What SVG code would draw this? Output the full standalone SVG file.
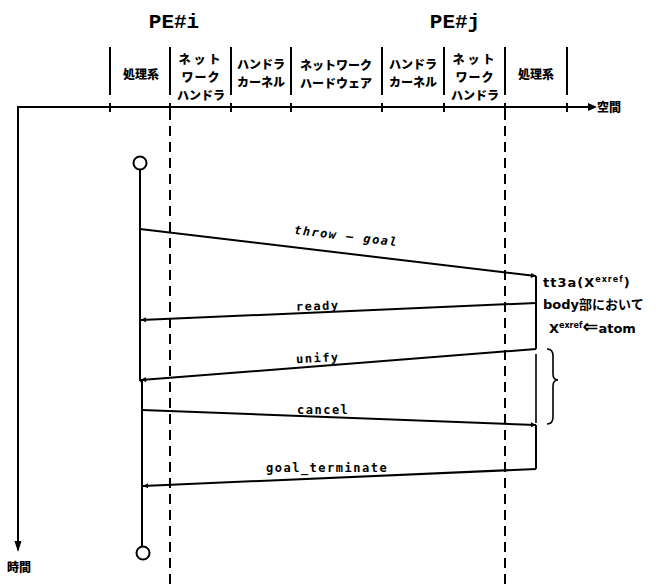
<svg xmlns="http://www.w3.org/2000/svg" width="661" height="588" viewBox="0 0 661 588">
<style>
.ln{stroke:#000;stroke-width:2;fill:none}
.th{stroke:#000;stroke-width:1.6;fill:none}
.ds{stroke:#000;stroke-width:2;stroke-dasharray:10,6;fill:none}
.jp{font-family:"Noto Sans CJK JP","Noto Sans CJK SC",sans-serif;font-weight:900;font-size:12px;fill:#000}
.hd{font-family:"Liberation Mono","DejaVu Sans Mono",monospace;font-weight:bold;font-size:21px;fill:#000}
.lb{font-family:"DejaVu Sans Mono","Liberation Mono",monospace;font-weight:bold;font-size:12px;fill:#000;letter-spacing:1.5px}
.rt{font-family:"DejaVu Sans","Noto Sans CJK JP",sans-serif;font-weight:bold;font-size:13px;fill:#000}
</style>
<defs>
<marker id="ah" viewBox="0 0 10 10" refX="10" refY="5" markerWidth="7" markerHeight="5" orient="auto" markerUnits="userSpaceOnUse">
<path d="M0,0L10,5L0,10z" fill="#000"/>
</marker>
</defs>
<rect width="661" height="588" fill="#fff"/>

<g id="header">
<text class="hd" x="174" y="28" text-anchor="middle">PE#i</text>
<text class="hd" x="455" y="28" text-anchor="middle">PE#j</text>
</g>

<g id="separators">
<line class="ln" x1="110" y1="47" x2="110" y2="95"/>
<line class="ln" x1="170" y1="47" x2="170" y2="95"/>
<line class="ln" x1="231" y1="47" x2="231" y2="95"/>
<line class="ln" x1="291" y1="47" x2="291" y2="95"/>
<line class="ln" x1="382" y1="47" x2="382" y2="95"/>
<line class="ln" x1="444" y1="47" x2="444" y2="95"/>
<line class="ln" x1="505" y1="47" x2="505" y2="95"/>
<line class="ln" x1="567" y1="47" x2="567" y2="95"/>
</g>

<g id="column-labels">
<text class="jp" x="141" y="79" text-anchor="middle">処理系</text>
<text class="jp" x="201" y="64" text-anchor="middle" letter-spacing="3">ネット</text>
<text class="jp" x="201" y="82" text-anchor="middle" letter-spacing="1">ワーク</text>
<text class="jp" x="201" y="100" text-anchor="middle">ハンドラ</text>
<text class="jp" x="261" y="69" text-anchor="middle">ハンドラ</text>
<text class="jp" x="261" y="87" text-anchor="middle">カーネル</text>
<text class="jp" x="336" y="70" text-anchor="middle">ネットワーク</text>
<text class="jp" x="336" y="88" text-anchor="middle">ハードウェア</text>
<text class="jp" x="413" y="69" text-anchor="middle">ハンドラ</text>
<text class="jp" x="413" y="87" text-anchor="middle">カーネル</text>
<text class="jp" x="475" y="64" text-anchor="middle" letter-spacing="3">ネット</text>
<text class="jp" x="475" y="82" text-anchor="middle" letter-spacing="1">ワーク</text>
<text class="jp" x="475" y="100" text-anchor="middle">ハンドラ</text>
<text class="jp" x="536" y="79" text-anchor="middle">処理系</text>
</g>

<g id="axes">
<path class="ln" d="M18,550 L18,107 L588,107"/>
<path d="M588,103 L597,107 L588,111z" fill="#000"/>
<path d="M14.5,541 L18,552 L21.5,541z" fill="#000"/>
<path class="ln" d="M110,103V112M170,103V112M231,103V112M291,103V112M382,103V112M444,103V112M505,103V112M567,103V112"/>
<text class="jp" x="597" y="112">空間</text>
<text class="jp" x="7" y="572">時間</text>
</g>

<g id="dashed-boundaries">
<line class="ds" x1="170" y1="110" x2="170" y2="588"/>
<line class="ds" x1="505" y1="110" x2="505" y2="588"/>
</g>

<g id="lifeline-i">
<circle cx="140" cy="163" r="6.5" fill="#fff" stroke="#000" stroke-width="2"/>
<path class="ln" d="M140,170 L140,380 L142,382 L142,546"/>
<circle cx="143" cy="553" r="6.5" fill="#fff" stroke="#000" stroke-width="2"/>
</g>

<g id="lifeline-j">
<path class="ln" d="M536,276 L536,349"/>
<path class="th" d="M536,354 L536,423"/>
<path class="ln" d="M536,425 L536,469"/>
</g>

<g id="connectors">
<line class="ln" x1="140" y1="229" x2="536" y2="276" marker-end="url(#ah)"/>
<line class="ln" x1="536" y1="303" x2="141" y2="320" marker-end="url(#ah)"/>
<line class="ln" x1="536" y1="349" x2="141" y2="380" marker-end="url(#ah)"/>
<line class="ln" x1="142" y1="410" x2="536" y2="425" marker-end="url(#ah)"/>
<line class="ln" x1="536" y1="469" x2="143" y2="486" marker-end="url(#ah)"/>
</g>

<g id="message-labels">
<text class="lb" x="293" y="240" font-style="italic" transform="rotate(6.8 345 243)">throw — goal</text>
<text class="lb" x="296" y="310" transform="rotate(-2 320 308)">ready</text>
<text class="lb" x="296" y="362" transform="rotate(-3 320 358)">unify</text>
<text class="lb" x="297" y="414">cancel</text>
<text class="lb" x="266" y="472" letter-spacing="0.8">goal_terminate</text>
</g>

<g id="brace">
<path class="th" d="M547,349 Q553,349 553,356 L553,374 Q553,380 558,380 Q553,380 553,386 L553,417 Q553,424 547,424"/>
</g>

<g id="annotation">
<text class="rt" x="543" y="287" letter-spacing="1">tt3a(X<tspan font-size="8" dy="-5">exref</tspan><tspan dy="5">)</tspan></text>
<text class="rt" x="543" y="309">body<tspan font-family="Noto Sans CJK JP,sans-serif">部において</tspan></text>
<text class="rt" x="549" y="333">X<tspan font-size="8" dy="-5">exref</tspan><tspan dy="5" font-size="19">⇐</tspan>atom</text>
</g>
</svg>
